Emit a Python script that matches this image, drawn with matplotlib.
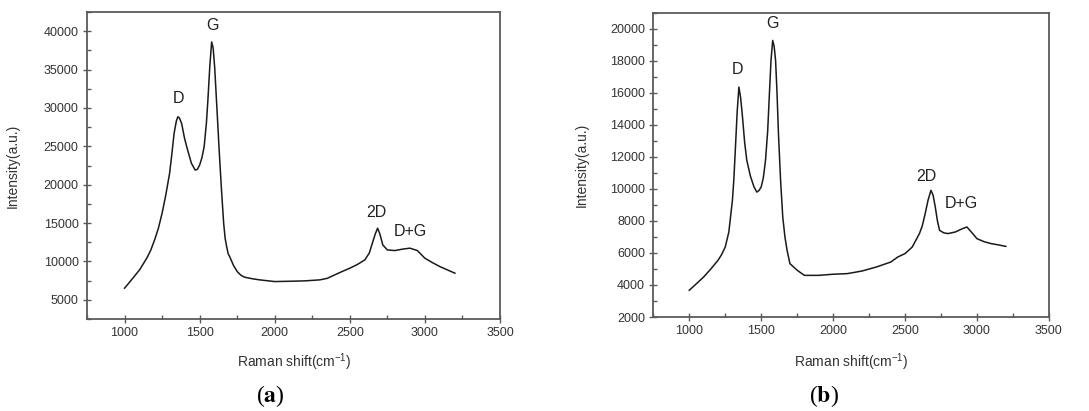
import matplotlib
matplotlib.use("Agg")
import matplotlib.pyplot as plt
from matplotlib.ticker import MultipleLocator

plt.rcParams['font.family'] = ['Liberation Sans', 'DejaVu Sans']
plt.rcParams['mathtext.default'] = 'regular'

# Panel (a) spectrum
shift_a = [1000, 1025, 1050, 1075, 1100, 1125, 1150, 1175, 1200, 1225, 1250, 1275,
           1300, 1315, 1330, 1345, 1355, 1365, 1380, 1400, 1420, 1445, 1470, 1485,
           1500, 1515, 1530, 1545, 1555, 1568, 1580, 1590, 1600, 1615, 1630, 1645,
           1660, 1670, 1680, 1690, 1700, 1725, 1750, 1775, 1800, 1850, 1900, 2000,
           2100, 2200, 2300, 2350, 2400, 2450, 2500, 2550, 2600, 2630, 2650, 2670,
           2685, 2700, 2720, 2750, 2800, 2850, 2900, 2950, 3000, 3050, 3100, 3150, 3200]
inten_a = [6520, 7100, 7700, 8300, 8900, 9700, 10500, 11500, 12800, 14300, 16280, 18700,
           21480, 24000, 26690, 28300, 28850, 28700, 27990, 26000, 24520, 22800, 21910, 22000,
           22560, 23500, 24950, 28000, 31020, 35500, 38600, 37800, 35360, 30000, 24520, 19500,
           14980, 13000, 11930, 11000, 10640, 9500, 8690, 8200, 7950, 7750, 7600, 7380,
           7420, 7470, 7600, 7800, 8250, 8700, 9120, 9600, 10200, 11100, 12370, 13600,
           14330, 13600, 12150, 11500, 11420, 11600, 11730, 11420, 10420, 9850, 9330, 8900, 8470]

# Panel (b) spectrum
shift_b = [1000, 1050, 1100, 1150, 1200, 1225, 1250, 1275, 1300, 1310, 1320, 1333,
           1345, 1357, 1370, 1385, 1400, 1425, 1450, 1470, 1485, 1500, 1515, 1530,
           1545, 1555, 1568, 1580, 1590, 1600, 1610, 1620, 1635, 1650, 1665, 1680,
           1700, 1750, 1800, 1900, 2000, 2100, 2200, 2300, 2400, 2450, 2500, 2550,
           2600, 2620, 2640, 2660, 2680, 2695, 2710, 2725, 2740, 2770, 2800, 2850,
           2900, 2930, 2970, 3000, 3050, 3100, 3150, 3200]
inten_b = [3670, 4080, 4500, 5000, 5540, 5900, 6370, 7300, 9290, 10600, 12400, 14800,
           16360, 15700, 14490, 12900, 11780, 10800, 10120, 9800, 9900, 10120, 10700, 11780,
           13600, 15530, 18000, 19270, 18900, 18030, 16000, 13450, 10500, 8240, 7000, 6160,
           5330, 4920, 4600, 4600, 4670, 4710, 4870, 5120, 5430, 5750, 5960, 6370,
           7210, 7700, 8460, 9300, 9910, 9600, 8870, 8000, 7410, 7250, 7210, 7310,
           7520, 7620, 7210, 6890, 6700, 6580, 6500, 6410]

peak_names = ["D", "G", "2D", "D+G"]
peak_pos_a = [(1357, 31280), (1588, 40690), (2679, 16410), (2901, 13890)]
peak_pos_b = [(1332, 17446), (1576, 20318), (2648, 10803), (2892, 9080)]

fig = plt.figure(figsize=(10.89, 4.11), dpi=100)
ax1 = fig.add_axes([0.0799, 0.2238, 0.3792, 0.747])
ax2 = fig.add_axes([0.5999, 0.2287, 0.3633, 0.7404])

spine_c = '#5a5a5a'
txt_c = '#333333'

def style(ax, ylim, ymaj, ymin):
    ax.set_xlim(750, 3500)
    ax.set_ylim(*ylim)
    ax.xaxis.set_major_locator(MultipleLocator(500))
    ax.xaxis.set_minor_locator(MultipleLocator(250))
    ax.yaxis.set_major_locator(MultipleLocator(ymaj))
    ax.yaxis.set_minor_locator(MultipleLocator(ymin))
    for s in ax.spines.values():
        s.set_color(spine_c)
        s.set_linewidth(1.3)
    ax.tick_params(which='major', direction='inout', length=6, width=1, color=spine_c,
                   labelsize=9, labelcolor=txt_c, top=False, right=False, pad=3)
    ax.tick_params(which='minor', direction='in', length=3, width=1, color=spine_c,
                   top=False, right=False)
    ax.set_ylabel('Intensity(a.u.)', fontsize=10, color=txt_c)

ax1.plot(shift_a, inten_a, color='#1a1a1a', lw=1.1)
ax2.plot(shift_b, inten_b, color='#1a1a1a', lw=1.1)
style(ax1, (2500, 42500), 5000, 2500)
style(ax2, (2000, 21000), 2000, 1000)
ax1.set_yticks([5000, 10000, 15000, 20000, 25000, 30000, 35000, 40000])
ax2.set_yticks(list(range(2000, 20001, 2000)))
ax1.yaxis.set_label_coords(-0.162, 0.5)
ax2.yaxis.set_label_coords(-0.1625, 0.5)

for name, (x, y) in zip(peak_names, peak_pos_a):
    ax1.text(x, y, name, ha='center', va='center', fontsize=11.5, color='#222222')
for name, (x, y) in zip(peak_names, peak_pos_b):
    ax2.text(x, y, name, ha='center', va='center', fontsize=11.5, color='#222222')

xl = r'Raman shift(cm$^{-1}$)'
fig.text(294 / 1089, 1 - 362 / 411, xl, ha='center', va='center', fontsize=10, color=txt_c)
fig.text(851 / 1089, 1 - 362 / 411, xl, ha='center', va='center', fontsize=10, color=txt_c)

fig.text(270 / 1089, 1 - 396 / 411, r'($\mathbf{a}$)', ha='center', va='center',
         fontsize=17, family='Liberation Serif', math_fontfamily='stix')
fig.text(824 / 1089, 1 - 396 / 411, r'($\mathbf{b}$)', ha='center', va='center',
         fontsize=17, family='Liberation Serif', math_fontfamily='stix')

fig.savefig('out.png', dpi=100)
